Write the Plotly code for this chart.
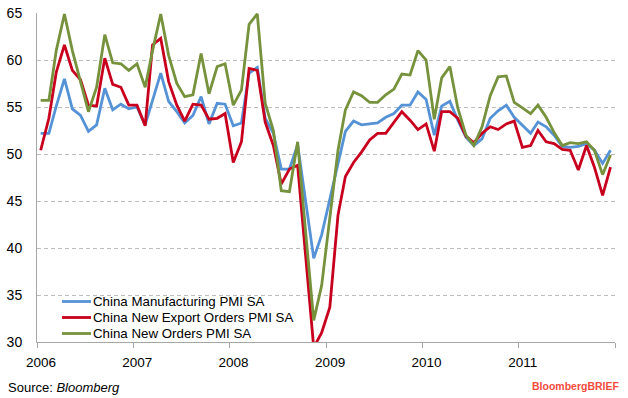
import plotly.graph_objects as go

# Monthly observations, Jan 2006 - Dec 2011
months = [f"{y}-{m:02d}-15" for y in range(2006, 2012) for m in range(1, 13)]

manufacturing = [
    52.2, 52.2, 55.1, 58.0, 54.8, 54.1, 52.4, 53.1, 57.0, 54.7, 55.3, 54.8,
    55.0, 53.1, 55.7, 58.6, 55.6, 54.5, 53.3, 54.1, 56.1, 53.2, 55.4, 55.3,
    53.0, 53.3, 58.6, 59.2, 53.8, 52.2, 48.4, 48.4, 51.0, 45.0, 38.9, 41.4,
    45.2, 49.1, 52.4, 53.5, 53.1, 53.2, 53.3, 53.9, 54.3, 55.2, 55.2, 56.6,
    55.8, 52.0, 55.1, 55.6, 53.6, 51.8, 50.9, 51.6, 53.8, 54.6, 55.2, 53.9,
    53.0, 52.2, 53.4, 52.9, 52.0, 50.8, 50.7, 50.8, 51.1, 50.4, 49.0, 50.4,
]
export_orders = [
    50.4, 53.8, 58.7, 61.6, 58.9, 57.9, 55.2, 55.1, 60.2, 57.4, 57.1, 55.2,
    55.2, 53.0, 61.6, 62.3, 57.7, 55.2, 53.5, 55.3, 55.2, 53.7, 53.8, 54.3,
    49.1, 51.3, 59.1, 58.9, 53.4, 50.9, 46.8, 48.4, 48.8, 39.1, 29.4, 31.0,
    33.7, 43.5, 47.6, 49.1, 50.2, 51.5, 52.2, 52.2, 53.4, 54.5, 53.6, 52.6,
    53.2, 50.3, 54.5, 54.5, 53.8, 51.9, 51.2, 52.2, 52.9, 52.6, 53.2, 53.5,
    50.7, 50.9, 52.5, 51.3, 51.1, 50.5, 50.4, 48.3, 50.9, 48.6, 45.6, 48.6,
]
new_orders = [
    55.7, 55.7, 61.0, 64.9, 61.0, 57.7, 54.5, 57.1, 62.7, 59.7, 59.6, 58.9,
    59.6, 57.1, 61.0, 64.9, 60.5, 57.5, 56.1, 56.3, 60.7, 56.4, 59.3, 59.6,
    55.2, 56.8, 63.8, 64.9, 55.4, 52.5, 46.1, 46.0, 51.3, 41.8, 32.3, 36.0,
    43.1, 50.4, 54.7, 56.6, 56.2, 55.5, 55.5, 56.3, 56.9, 58.5, 58.4, 61.0,
    60.0, 53.7, 58.1, 59.3, 54.9, 52.0, 50.9, 52.9, 56.2, 58.2, 58.3, 55.5,
    54.9, 54.3, 55.2, 53.9, 52.3, 50.9, 51.2, 51.1, 51.3, 50.4, 47.8, 49.9,
]

series_names = ["China Manufacturing PMI SA", "China New Export Orders PMI SA",
                "China New Orders PMI SA"]
series_colors = ["#5592d6", "#c8001e", "#76923c"]

year_ticks = ["2006-01-01", "2007-01-01", "2008-01-01", "2009-01-01",
              "2010-01-01", "2011-01-01", "2012-01-01"]
year_labels = ["2006", "2007", "2008", "2009", "2010", "2011", ""]
y_ticks = [30, 35, 40, 45, 50, 55, 60, 65]

FONT = "Liberation Sans"
W, H = 628, 398
ML, MR, MT, MB = 37, 13, 13, 56
PW, PH = W - ML - MR, H - MT - MB


def px_x(px):
    return (px - ML) / PW


def px_y(py):
    return (H - MB - py) / PH


fig = go.Figure()
for name, vals, col in zip(series_names, [manufacturing, export_orders, new_orders],
                           series_colors):
    fig.add_trace(go.Scatter(x=months, y=vals, mode="lines", name=name,
                             line=dict(color=col, width=2.8), showlegend=False))

# custom legend (line sample + label)
shapes = []
annotations = []
legend_rows = [301.5, 317.5, 333.5]
for name, col, ry in zip(series_names, series_colors, legend_rows):
    shapes.append(dict(type="line", xref="paper", yref="paper",
                       x0=px_x(62), x1=px_x(91), y0=px_y(ry), y1=px_y(ry),
                       line=dict(color=col, width=2.8)))
    annotations.append(dict(text=name, xref="paper", yref="paper",
                            x=px_x(91), y=px_y(ry), xanchor="left", yanchor="middle",
                            showarrow=False,
                            font=dict(family=FONT, size=13.3, color="black")))

annotations.append(dict(text="Source: <i>Bloomberg</i>", xref="paper", yref="paper",
                        x=px_x(6), y=px_y(387), xanchor="left", yanchor="middle",
                        showarrow=False, font=dict(family=FONT, size=13, color="black")))
annotations.append(dict(text="<b>BloombergBRIEF</b>", xref="paper", yref="paper",
                        x=px_x(622), y=px_y(386), xanchor="right", yanchor="middle",
                        showarrow=False, font=dict(family=FONT, size=10.5, color="#f24b3c")))

fig.update_layout(
    width=W, height=H,
    margin=dict(l=ML, r=MR, t=MT, b=MB, autoexpand=False),
    paper_bgcolor="white", plot_bgcolor="white",
    font=dict(family=FONT, size=13, color="black"),
    showlegend=False,
    xaxis=dict(range=["2006-01-01", "2012-01-01"], tickmode="array",
               tickvals=year_ticks, ticktext=year_labels, automargin=False,
               showgrid=False, showline=True, linecolor="#a6a6a6", linewidth=1,
               ticks="outside", ticklen=5, tickcolor="#a6a6a6",
               ticklabelshift=4, ticklabelstandoff=3,
               tickfont=dict(family=FONT, size=13.5), zeroline=False),
    yaxis=dict(range=[30, 65], tickmode="array", tickvals=y_ticks, automargin=False,
               showgrid=True, gridcolor="#bdbdbd", griddash="4px,3px", gridwidth=1,
               showline=True, linecolor="#a6a6a6", linewidth=1,
               ticks="", ticklabelstandoff=11,
               tickfont=dict(family=FONT, size=14), zeroline=False),
    shapes=shapes,
    annotations=annotations,
)

fig.write_html("out.html", config={"displayModeBar": False},
               post_script="document.body.style.margin='0';document.body.style.overflow='hidden';")
